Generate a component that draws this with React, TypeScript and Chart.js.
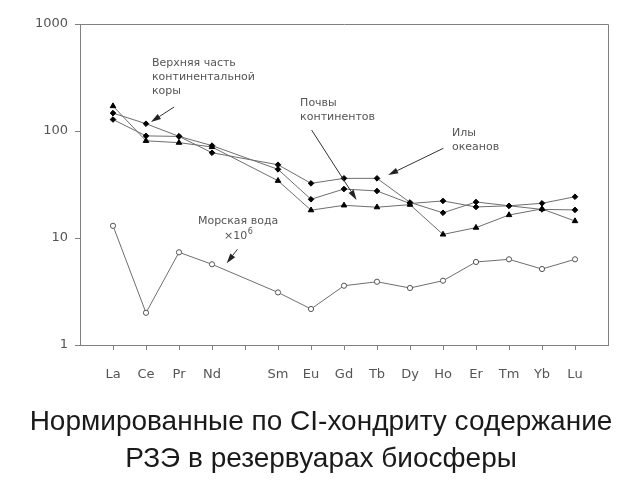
import React, { useEffect, useRef } from "react";
import { Chart, registerables } from "chart.js";

Chart.register(...registerables);

// Rare earth elements (Pm gap has no data)
const categories = ["La", "Ce", "Pr", "Nd", "", "Sm", "Eu", "Gd", "Tb", "Dy", "Ho", "Er", "Tm", "Yb", "Lu"];
const crust = [147, 117, 89, 62.6, null, 48.4, 32.4, 36.1, 36.1, 21.5, 17.2, 21.7, 20, 21.1, 24.3];
const soils = [128, 90, 89, 73, null, 43.8, 23, 28.7, 27.5, 21, 22.2, 19.5, 20, 18.5, 18.3];
const oceanMud = [171, 81, 77.8, 70.9, null, 34.3, 18.2, 20.2, 19.4, 20.5, 10.8, 12.5, 16.4, 18.7, 14.4];
const seawater = [13.0, 2.0, 7.35, 5.68, null, 3.1, 2.17, 3.58, 3.9, 3.41, 3.99, 5.97, 6.32, 5.13, 6.32];
const yTicks = [1, 10, 100, 1000];

const titleLines = ["Нормированные по CI-хондриту содержание", "РЗЭ в резервуарах биосферы"];

// annotations in data coordinates (x = category position, y = value)
const noteTexts = [
  { lines: ["Верхняя часть", "континентальной", "коры"], x: 2.18, y: 431, align: "left" },
  { lines: ["Почвы", "континентов"], x: 6.67, y: 184, align: "left" },
  { lines: ["Илы", "океанов"], x: 11.27, y: 95, align: "left" },
  { lines: ["Морская вода"], x: 4.79, y: 14.4, align: "center" },
];
const powerNote = { base: "×10", exp: "6", x: 4.79, y: 10.3 };
const arrows = [
  { from: [2.85, 167.5], to: [2.15, 121.4] },
  { from: [7.02, 102], to: [8.38, 22.7] },
  { from: [11.01, 68.9], to: [9.34, 38.8] },
  { from: [4.77, 7.84], to: [4.445, 5.8] },
];

const toPoints = (vals: (number | null)[]) =>
  vals.map((v, i) => ({ x: i + 1, y: v })).filter((p) => p.y !== null);

const LINE = "#6e6e6e";
const AXIS = "#808080";
const TEXT = "#555555";

const overlay = {
  id: "overlay",
  afterDraw(chart: any) {
    const { ctx, chartArea, scales } = chart;
    const xs = scales.x;
    const ys = scales.y;
    ctx.save();
    // frame top and right
    ctx.strokeStyle = AXIS;
    ctx.lineWidth = 1;
    ctx.beginPath();
    ctx.moveTo(Math.round(chartArea.left) + 0.5, Math.round(chartArea.top) + 0.5);
    ctx.lineTo(Math.round(chartArea.right) + 0.5, Math.round(chartArea.top) + 0.5);
    ctx.lineTo(Math.round(chartArea.right) + 0.5, Math.round(chartArea.bottom) + 0.5);
    ctx.stroke();

    // notes
    ctx.fillStyle = TEXT;
    ctx.font = "11px 'DejaVu Sans'";
    ctx.textBaseline = "middle";
    for (const n of noteTexts) {
      const px = xs.getPixelForValue(n.x);
      const py = ys.getPixelForValue(n.y);
      ctx.textAlign = n.align as CanvasTextAlign;
      n.lines.forEach((l, i) => ctx.fillText(l, px, py + i * 14));
    }
    // ×10^6
    {
      const px = xs.getPixelForValue(powerNote.x);
      const py = ys.getPixelForValue(powerNote.y);
      ctx.font = "11px 'DejaVu Sans'";
      const wb = ctx.measureText(powerNote.base).width;
      ctx.font = "8px 'DejaVu Sans'";
      const we = ctx.measureText(powerNote.exp).width;
      const start = px - (wb + we) / 2;
      ctx.textAlign = "left";
      ctx.font = "11px 'DejaVu Sans'";
      ctx.fillText(powerNote.base, start, py);
      ctx.font = "8px 'DejaVu Sans'";
      ctx.fillText(powerNote.exp, start + wb + 0.5, py - 5);
    }
    // arrows
    ctx.strokeStyle = "#333333";
    ctx.fillStyle = "#222222";
    ctx.lineWidth = 1;
    for (const a of arrows) {
      const x1 = xs.getPixelForValue(a.from[0]);
      const y1 = ys.getPixelForValue(a.from[1]);
      const x2 = xs.getPixelForValue(a.to[0]);
      const y2 = ys.getPixelForValue(a.to[1]);
      const ang = Math.atan2(y2 - y1, x2 - x1);
      const len = 10;
      const hw = 3;
      const bx = x2 - len * Math.cos(ang);
      const by = y2 - len * Math.sin(ang);
      ctx.beginPath();
      ctx.moveTo(x1, y1);
      ctx.lineTo(bx, by);
      ctx.stroke();
      ctx.beginPath();
      ctx.moveTo(x2, y2);
      ctx.lineTo(bx + hw * Math.sin(ang), by - hw * Math.cos(ang));
      ctx.lineTo(bx - hw * Math.sin(ang), by + hw * Math.cos(ang));
      ctx.closePath();
      ctx.fill();
    }

    // title, centred on the whole canvas
    ctx.fillStyle = "#1a1a1a";
    ctx.font = "28px 'Liberation Sans'";
    ctx.textAlign = "center";
    ctx.textBaseline = "middle";
    const cx = chart.width / 2;
    const baseY = chartArea.bottom + 59 + 18.5;
    titleLines.forEach((l, i) => ctx.fillText(l, cx + 1, baseY + i * 37));
    ctx.restore();
  },
};

export default function App() {
  const ref = useRef<HTMLCanvasElement | null>(null);
  useEffect(() => {
    if (!ref.current) return;
    const mk = (data: (number | null)[], style: string, r: number, filled: boolean) => ({
      data: toPoints(data),
      borderColor: LINE,
      borderWidth: 1,
      pointStyle: style,
      pointRadius: r,
      pointBorderWidth: 1,
      pointBorderColor: filled ? "#000000" : "#555555",
      pointBackgroundColor: filled ? "#000000" : "#ffffff",
      showLine: true,
      spanGaps: true,
      tension: 0,
    });
    const chart = new Chart(ref.current, {
      type: "scatter",
      data: {
        datasets: [
          mk(crust, "rectRot", 2.8, true),
          mk(soils, "rectRot", 2.8, true),
          mk(oceanMud, "triangle", 3.2, true),
          mk(seawater, "circle", 2.6, false),
        ] as any,
      },
      options: {
        animation: false,
        responsive: false,
        layout: { padding: { top: 24, right: 32, left: 0, bottom: 76 } },
        plugins: {
          legend: { display: false },
          tooltip: { enabled: false },
          title: { display: false },
        },
        scales: {
          x: {
            type: "linear",
            min: 0,
            max: 16,
            afterBuildTicks: (axis: any) => {
              axis.ticks = categories.map((_, i) => ({ value: i + 1 }));
            },
            afterFit: (s: any) => {
              s.height = 59;
            },
            ticks: {
              autoSkip: false,
              maxRotation: 0,
              padding: 17,
              color: TEXT,
              font: { family: "'DejaVu Sans'", size: 13 },
              callback: (v: any) => categories[Math.round(v) - 1] ?? "",
            },
            grid: { drawOnChartArea: false, drawTicks: true, tickLength: 5, color: AXIS },
            border: { display: true, color: AXIS, width: 1 },
          },
          y: {
            type: "logarithmic",
            min: 1,
            max: 1000,
            afterBuildTicks: (axis: any) => {
              axis.ticks = yTicks.map((v) => ({ value: v, major: true }));
            },
            afterFit: (s: any) => {
              s.width = 80;
            },
            ticks: {
              padding: 7,
              color: TEXT,
              font: { family: "'DejaVu Sans'", size: 13 },
              callback: (v: any) => String(v),
            },
            grid: { drawOnChartArea: false, drawTicks: true, tickLength: 5, color: AXIS },
            border: { display: true, color: AXIS, width: 1 },
          },
        },
      },
      plugins: [overlay],
    });
    return () => chart.destroy();
  }, []);
  return (
    <div style={{ position: "absolute", left: 0, top: 0, width: 640, height: 480, background: "#fff" }}>
      <canvas ref={ref} width={640} height={480} />
    </div>
  );
}
